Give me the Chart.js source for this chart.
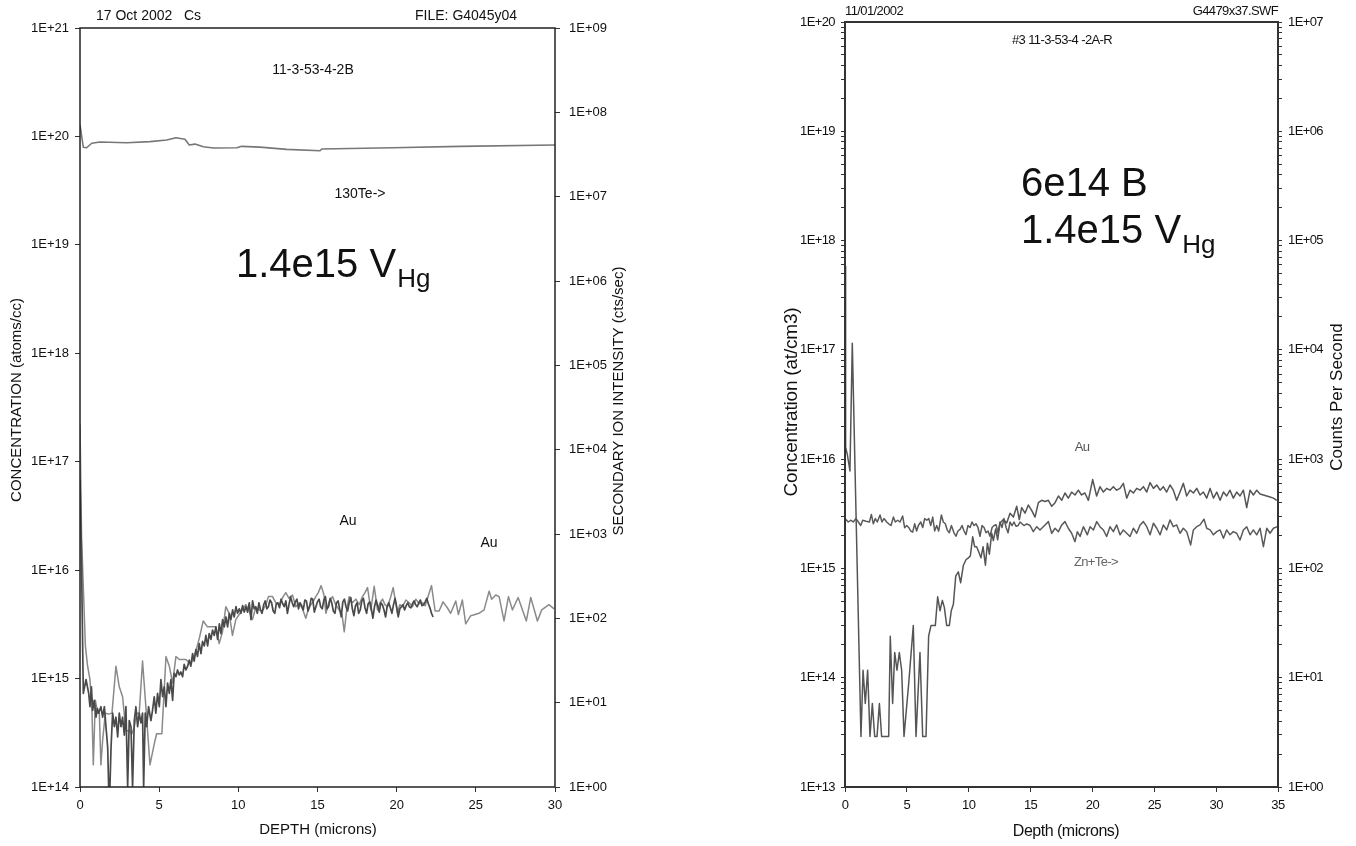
<!DOCTYPE html>
<html>
<head>
<meta charset="utf-8">
<script src="https://cdn.jsdelivr.net/npm/chart.js@4.4.1/dist/chart.umd.min.js"></script>
<style>
  html, body { margin: 0; padding: 0; background: #fff; }
  #wrap { position: relative; width: 1356px; height: 846px; overflow: hidden; background: #fff; }
  canvas { position: absolute; top: 0; }
  #left { left: 0; }
  #right { left: 700px; }
</style>
</head>
<body>
<div id="wrap">
  <canvas id="left" width="700" height="846"></canvas>
  <canvas id="right" width="656" height="846"></canvas>
</div>
<script>
// ---------- Sample 11-3-53-4-2B (Cs primary beam), depth in microns ----------
// Au profile, first acquisition (atoms/cc)
const auDarkLeft = [
  [0,6.8e16],[0.08,1.7e16],[0.21,7.3e14],[0.38,9.8e14],[0.55,7.3e14],[0.63,5.5e14],[0.72,8.4e14],[0.8,5.1e14],
  [0.9,6.3e14],[1.01,4.4e14],[1.1,5.3e14],[1.18,4.8e14],[1.32,5.5e14],[1.43,4.4e14],[1.54,5.5e14],[1.64,3.6e14],
  [1.75,2.3e14],[1.81,1e14],[1.89,1e14],[1.96,2.3e14],[2.06,4.8e14],[2.17,3.6e14],[2.27,4.4e14],[2.38,2.9e14],
  [2.48,4.8e14],[2.59,3.6e14],[2.69,4.4e14],[2.8,3.0e14],[2.9,5.5e14],[3.01,1e14],[3.11,4.1e14],[3.22,3.6e14],
  [3.32,1e14],[3.43,4.1e14],[3.53,5.5e14],[3.64,3.6e14],[3.74,4.8e14],[3.85,3.9e14],[3.95,4.8e14],[4.02,1e14],
  [4.12,4.8e14],[4.21,3.6e14],[4.33,5.5e14],[4.48,4.1e14],[4.58,5.1e14],[4.69,6.8e14],[4.79,4.8e14],[4.9,7.3e14],
  [5.01,5.5e14],[5.11,9.8e14],[5.22,6.8e14],[5.32,8.4e14],[5.43,5.5e14],[5.53,9.1e14],[5.64,7.3e14],[5.74,9.8e14],
  [5.85,6.3e14],[5.95,1.12e15],[6.06,1.04e15],[6.16,1.2e15],[6.27,1.08e15],[6.37,1.15e15],[6.48,1.04e15],[6.58,1.35e15],
  [6.69,1.2e15],[6.8,1.3e15],[6.9,1.48e15],[7.0,1.3e15],[7.11,1.7e15],[7.21,1.45e15],[7.32,1.85e15],[7.42,1.6e15],
  [7.53,2.1e15],[7.64,1.7e15],[7.74,2.2e15],[7.85,2.0e15],[7.95,2.5e15],[8.06,2.0e15],[8.16,2.6e15],[8.27,2.3e15],
  [8.37,2.8e15],[8.48,2.5e15],[8.58,3.0e15],[8.69,2.3e15],[8.8,3.2e15],[8.9,2.6e15],[9.01,3.5e15],[9.11,3.0e15],
  [9.22,3.7e15],[9.32,3.0e15],[9.43,4.0e15],[9.53,3.5e15],[9.64,4.3e15],[9.74,3.7e15],[9.85,4.6e15],[9.95,4.0e15],
  [10.06,4.4e15],[10.16,4.0e15],[10.27,4.7e15],[10.37,4.1e15],[10.48,4.6e15],[10.58,4.1e15],[10.69,5.0e15],[10.8,3.5e15],
  [10.9,5.2e15],[11.0,4.4e15],[11.1,4.6e15],[11.2,4.0e15],[11.3,5.0e15],[11.4,4.3e15],[11.5,4.0e15],[11.6,4.8e15],
  [11.7,5.2e15],[11.8,4.4e15],[11.9,4.6e15],[12.0,5.3e15],[12.1,5.0e15],[12.2,4.2e15],[12.3,4.0e15],[12.4,4.9e15],
  [12.5,5.0e15],[12.6,4.5e15],[12.7,5.4e15],[12.8,4.9e15],[12.9,4.6e15],[13.0,5.2e15],[13.1,4.0e15],[13.2,4.8e15],
  [13.3,5.7e15],[13.4,5.0e15],[13.5,4.6e15],[13.6,5.1e15],[13.7,5.4e15],[13.8,4.4e15],[13.9,5.0e15],[14.0,4.7e15],
  [14.1,4.3e15],[14.2,5.3e15],[14.3,5.2e15],[14.4,4.2e15],[14.5,4.6e15],[14.6,5.5e15],[14.7,5.4e15],[14.8,4.1e15],
  [14.9,4.6e15],[15.0,5.1e15],[15.1,5.4e15],[15.2,4.6e15],[15.3,4.4e15],[15.4,5.3e15],[15.5,5.7e15],[15.6,4.4e15],
  [15.7,4.6e15],[15.8,5.5e15],[15.9,5.0e15],[16.0,4.2e15],[16.1,4.0e15],[16.2,5.0e15],[16.3,5.2e15],[16.4,4.4e15],
  [16.5,3.7e15],[16.6,5.1e15],[16.7,5.4e15],[16.8,4.6e15],[16.9,4.2e15],[17.0,5.0e15],[17.1,5.6e15],[17.2,4.4e15],
  [17.3,3.8e15],[17.4,4.7e15],[17.5,5.0e15],[17.6,4.0e15],[17.7,4.3e15],[17.8,5.2e15],[17.9,5.5e15],[18.0,4.5e15],
  [18.1,4.0e15],[18.2,4.9e15],[18.3,5.1e15],[18.4,4.4e15],[18.5,3.6e15],[18.6,4.6e15],[18.7,5.3e15],[18.8,4.7e15],
  [18.9,4.1e15],[19.0,5.0e15],[19.1,4.8e15],[19.2,4.3e15],[19.3,3.7e15],[19.4,4.6e15],[19.5,5.0e15],[19.6,4.5e15],
  [19.7,4.0e15],[19.8,4.8e15],[19.9,5.5e15],[20.0,4.6e15],[20.1,3.7e15],[20.2,4.4e15],[20.3,4.6e15],[20.4,4.8e15],
  [20.5,4.3e15],[20.6,4.7e15],[20.7,5.0e15],[20.8,4.6e15],[20.9,4.5e15],[21.0,4.9e15],[21.1,5.2e15],[21.2,4.8e15],
  [21.3,4.6e15],[21.4,5.0e15],[21.5,5.3e15],[21.6,4.7e15],[21.7,4.8e15],[21.8,5.1e15],[21.9,5.5e15],[22.0,4.9e15],
  [22.1,4.5e15],[22.2,4.0e15],[22.3,3.7e15]
];

// Au profile, second acquisition (atoms/cc)
const auLightLeft = [
  [0,2.2e17],[0.1,2.0e16],[0.34,2.0e15],[0.48,1.3e15],[0.63,9.8e14],[0.76,4.8e14],[0.84,1.6e14],[0.97,6.3e14],
  [1.11,4.8e14],[1.22,4.8e14],[1.32,1.6e14],[1.43,2.7e14],[1.6,4.8e14],[1.81,4.7e14],[2.02,4.8e14],[2.27,1.3e15],
  [2.48,8.4e14],[2.69,6.8e14],[2.9,3.3e14],[3.11,3.3e14],[3.28,3.1e14],[3.43,3.6e14],[3.58,4.8e14],[3.74,4.8e14],
  [3.95,1.45e15],[4.16,5.5e14],[4.42,1.6e14],[4.69,2.5e14],[4.84,3.1e14],[5.0,3.1e14],[5.17,3.1e14],[5.43,1.6e15],
  [5.64,1.3e15],[5.85,9.1e14],[6.06,1.6e15],[6.27,1.5e15],[6.48,1.5e15],[6.69,1.5e15],[7.0,1.35e15],[7.32,1.8e15],
  [7.55,2.4e15],[7.78,3.4e15],[8.05,3.0e15],[8.37,3.0e15],[8.58,3.0e15],[8.79,2.1e15],[9.0,2.7e15],[9.21,4.6e15],
  [9.42,4.0e15],[9.63,2.5e15],[9.84,3.5e15],[10.05,3.9e15],[10.26,4.3e15],[10.47,4.8e15],[10.68,4.2e15],[10.89,3.5e15],
  [11.1,4.5e15],[11.31,4.3e15],[11.52,4.2e15],[11.74,4.8e15],[11.9,5.7e15],[12.16,5.7e15],[12.37,5.0e15],[12.58,4.8e15],
  [12.83,5.7e15],[13.0,6.2e15],[13.2,5.5e15],[13.42,5.9e15],[13.63,4.6e15],[13.84,5.0e15],[14.05,4.4e15],[14.26,3.6e15],
  [14.47,4.6e15],[14.68,5.0e15],[14.89,5.7e15],[15.05,6.2e15],[15.23,7.2e15],[15.4,6.0e15],[15.53,4.0e15],[15.75,5.2e15],
  [15.95,5.7e15],[16.15,4.8e15],[16.37,4.3e15],[16.55,3.9e15],[16.69,2.7e15],[16.85,4.4e15],[17.0,5.7e15],[17.2,5.0e15],
  [17.42,5.4e15],[17.63,4.8e15],[17.84,5.7e15],[18.0,6.2e15],[18.16,6.9e15],[18.37,4.3e15],[18.58,7.1e15],[18.79,4.3e15],
  [18.95,5.0e15],[19.11,5.4e15],[19.26,4.8e15],[19.42,4.6e15],[19.6,5.5e15],[19.78,6.9e15],[20.05,4.0e15],[20.2,4.8e15],
  [20.37,4.6e15],[20.58,5.3e15],[20.79,5.0e15],[21.0,4.6e15],[21.21,5.4e15],[21.42,4.9e15],[21.63,5.0e15],[21.8,4.7e15],
  [21.95,5.5e15],[22.2,7.2e15],[22.43,4.2e15],[22.68,4.2e15],[22.93,5.1e15],[23.2,4.5e15],[23.41,4.0e15],[23.73,5.2e15],
  [23.9,3.9e15],[24.15,5.3e15],[24.36,3.2e15],[24.68,3.8e15],[24.95,3.9e15],[25.2,4.0e15],[25.52,4.3e15],[25.84,6.4e15],
  [26.0,5.4e15],[26.26,5.9e15],[26.47,5.7e15],[26.78,3.4e15],[27.06,5.7e15],[27.31,4.3e15],[27.67,5.6e15],[28.19,3.4e15],
  [28.47,5.6e15],[28.89,3.4e15],[29.16,4.3e15],[29.62,4.8e15],[29.94,4.4e15]
];

// 130Te matrix signal (cts/sec)
const te130Left = [
  [0,7.1e7],[0.21,3.85e7],[0.42,3.8e7],[0.74,4.3e7],[1.26,4.45e7],[2.95,4.35e7],[4.42,4.5e7],[5.48,4.7e7],
  [6.06,5.0e7],[6.63,4.8e7],[6.9,4.1e7],[7.26,4.2e7],[7.79,3.9e7],[8.42,3.78e7],[9.9,3.8e7],[10.21,3.95e7],
  [11.37,3.87e7],[13.06,3.64e7],[15.16,3.5e7],[15.27,3.67e7],[19.77,3.8e7],[24.0,3.95e7],[30,4.1e7]
];

// ---------- Sample #3 11-3-53-4-2A-R, depth in microns ----------
// Au profile (at/cm3)
const auRight = [
  [0,5.8e17],[0.05,1.29e16],[0.19,1.1e16],[0.4,7.8e15],[0.59,1.15e17],[0.81,8.2e15],[1.29,2.9e13],[1.46,1.17e14],
  [1.64,5.8e13],[1.83,1.17e14],[2.02,2.9e13],[2.21,5.8e13],[2.4,2.9e13],[2.59,2.9e13],[2.78,5.8e13],[2.96,2.9e13],
  [3.15,2.9e13],[3.34,2.9e13],[3.53,2.9e13],[3.66,2.4e14],[3.85,5.8e13],[4.02,1.7e14],[4.2,1.17e14],[4.39,1.7e14],
  [4.58,1.17e14],[4.77,2.9e13],[5.15,8.9e13],[5.52,3.0e14],[5.74,2.9e13],[6.06,1.7e14],[6.28,2.9e13],[6.55,2.9e13],
  [6.76,2.4e14],[6.95,3.0e14],[7.3,3.0e14],[7.49,5.5e14],[7.68,4.1e14],[7.87,5.1e14],[8.03,4.4e14],[8.22,3.0e14],
  [8.43,3.0e14],[8.59,4.1e14],[8.76,4.7e14],[8.95,8.5e14],[9.16,9.3e14],[9.35,7.4e14],[9.57,1.07e15],[9.78,1.2e15],
  [9.97,1.25e15],[10.13,1.3e15],[10.32,1.95e15],[10.48,1.58e15],[10.64,1.58e15],[10.83,1.4e15],[10.99,1.25e15],[11.16,1.58e15],
  [11.35,1.07e15],[11.51,1.7e15],[11.67,1.35e15],[11.86,2.1e15],[11.99,1.8e15],[12.18,2.3e15],[12.34,1.83e15],[12.53,2.6e15],
  [12.8,2.8e15],[13.07,2.6e15],[13.34,3.2e15],[13.61,2.95e15],[13.88,3.7e15],[14.09,2.8e15],[14.28,3.6e15],[14.55,3.2e15],
  [14.82,3.8e15],[15.09,3.4e15],[15.36,2.95e15],[15.63,4.0e15],[15.9,4.2e15],[16.17,4.1e15],[16.44,4.2e15],[16.71,3.7e15],
  [16.98,4.0e15],[17.25,4.6e15],[17.52,4.2e15],[17.78,4.9e15],[18.05,4.4e15],[18.32,5.0e15],[18.59,4.7e15],[18.86,5.2e15],
  [19.12,4.7e15],[19.39,4.9e15],[19.67,4.2e15],[20.02,6.5e15],[20.34,4.6e15],[20.61,5.6e15],[20.88,5.0e15],[21.15,5.4e15],
  [21.42,5.2e15],[21.69,5.6e15],[21.96,5.2e15],[22.23,5.4e15],[22.5,6.0e15],[22.77,4.4e15],[23.04,5.2e15],[23.31,4.9e15],
  [23.58,5.4e15],[23.85,5.2e15],[24.12,5.6e15],[24.39,5.0e15],[24.66,6.1e15],[24.93,5.4e15],[25.2,5.8e15],[25.47,5.2e15],
  [25.73,5.6e15],[26.0,5.0e15],[26.27,5.8e15],[26.54,5.2e15],[26.81,4.2e15],[27.08,5.0e15],[27.35,6.0e15],[27.62,4.6e15],
  [27.89,5.2e15],[28.16,4.9e15],[28.43,5.4e15],[28.7,4.7e15],[28.97,5.0e15],[29.24,4.4e15],[29.51,5.4e15],[29.78,4.4e15],
  [30.05,5.0e15],[30.32,4.2e15],[30.59,5.0e15],[30.85,4.6e15],[31.12,5.2e15],[31.39,4.4e15],[31.66,5.0e15],[31.93,4.6e15],
  [32.2,5.2e15],[32.47,3.6e15],[32.74,5.2e15],[33.01,4.7e15],[33.28,5.2e15],[33.55,4.8e15],[33.82,4.7e15],[34.09,4.6e15],
  [34.36,4.5e15],[34.63,4.4e15],[34.9,4.2e15]
];

// Zn+Te matrix signal (counts per second)
const znTeRight = [
  [0,286],[0.27,266],[0.46,276],[0.67,266],[0.89,286],[1.08,266],[1.27,247],[1.43,276],[1.7,270],[1.97,266],
  [2.13,312],[2.29,256],[2.45,286],[2.61,266],[2.83,308],[2.99,266],[3.15,286],[3.37,266],[3.53,256],[3.72,247],
  [3.91,295],[4.07,266],[4.26,276],[4.45,266],[4.66,302],[4.82,236],[4.99,247],[5.15,237],[5.31,220],[5.47,215],
  [5.63,256],[5.79,220],[5.93,247],[6.12,266],[6.28,237],[6.44,286],[6.61,276],[6.77,286],[6.93,247],[7.09,295],
  [7.25,220],[7.41,247],[7.57,220],[7.79,308],[7.95,266],[8.11,256],[8.27,224],[8.43,212],[8.6,247],[8.81,212],
  [8.97,197],[9.13,220],[9.3,228],[9.46,247],[9.62,220],[9.78,204],[9.94,247],[10.11,237],[10.27,266],[10.43,247],
  [10.59,256],[10.75,237],[10.91,197],[11.08,247],[11.24,237],[11.4,212],[11.56,220],[11.72,197],[11.89,237],[12.05,247],
  [12.21,251],[12.37,212],[12.53,266],[12.69,237],[12.85,286],[13.02,237],[13.18,212],[13.34,266],[13.5,247],[13.66,266],
  [13.82,243],[13.99,247],[14.15,266],[14.31,256],[14.47,247],[14.69,256],[14.96,247],[15.22,217],[15.5,241],[15.76,225],
  [16.17,250],[16.44,268],[16.71,210],[16.98,233],[17.25,217],[17.52,250],[17.78,268],[18.05,233],[18.32,210],[18.59,176],
  [18.78,217],[19.0,196],[19.27,241],[19.59,203],[19.81,241],[20.08,225],[20.35,268],[20.61,241],[20.88,225],[21.15,196],
  [21.42,241],[21.69,217],[21.96,250],[22.23,203],[22.5,225],[22.77,210],[23.04,196],[23.31,233],[23.58,210],[23.85,250],
  [24.12,268],[24.39,241],[24.66,203],[24.93,259],[25.2,233],[25.47,203],[25.73,250],[26.0,225],[26.27,278],[26.54,241],
  [26.81,250],[27.08,210],[27.35,233],[27.62,217],[27.94,164],[28.16,225],[28.43,241],[28.7,250],[29.02,282],[29.24,233],
  [29.51,225],[29.78,203],[30.05,217],[30.32,225],[30.59,189],[30.85,225],[31.12,203],[31.39,217],[31.66,210],[31.93,182],
  [32.2,225],[32.47,241],[32.74,203],[33.01,225],[33.28,203],[33.55,233],[33.82,158],[34.09,233],[34.36,210],[34.63,233],
  [34.95,241]
];

// ---------- Axis tick values ----------
const leftConcDecades  = [1e14, 1e15, 1e16, 1e17, 1e18, 1e19, 1e20, 1e21];
const leftCountDecades = [1e0, 1e1, 1e2, 1e3, 1e4, 1e5, 1e6, 1e7, 1e8, 1e9];
const rightConcDecades = [1e13, 1e14, 1e15, 1e16, 1e17, 1e18, 1e19, 1e20];
const rightCountDecades = [1e0, 1e1, 1e2, 1e3, 1e4, 1e5, 1e6, 1e7];
const depthTicksLeft  = [0, 5, 10, 15, 20, 25, 30];
const depthTicksRight = [0, 5, 10, 15, 20, 25, 30, 35];

// ---------- Helpers ----------
const FAMILY = "'Liberation Sans', Arial, Helvetica, sans-serif";
const toXY = pairs => pairs.map(([x, y]) => ({ x, y }));

function sciLabel(v) {
  const e = Math.round(Math.log10(v));
  return '1E' + (e < 0 ? '-' : '+') + String(Math.abs(e)).padStart(2, '0');
}

// decade ticks plus the 2..9 sub-ticks between them
function withMinors(decades) {
  const out = [];
  decades.forEach((d, i) => {
    out.push(d);
    if (i < decades.length - 1) for (let m = 2; m <= 9; m++) out.push(m * d);
  });
  return out;
}

function logAxis(position, min, max, tickVals, labelVals, width, fontSize, pad, tickLen) {
  return {
    type: 'logarithmic', position, min, max,
    afterBuildTicks: s => { s.ticks = tickVals.map(v => ({ value: v })); },
    afterFit: s => { s.width = width; },
    ticks: {
      autoSkip: false, padding: pad, color: '#111',
      font: { family: FAMILY, size: fontSize },
      callback: v => (labelVals.includes(v) ? sciLabel(v) : '')
    },
    grid: { drawOnChartArea: false, drawTicks: true, tickLength: tickLen, tickColor: '#333', lineWidth: 1 },
    border: { display: false }
  };
}

function depthAxis(max, tickVals, height, fontSize) {
  return {
    type: 'linear', position: 'bottom', min: 0, max,
    afterBuildTicks: s => { s.ticks = tickVals.map(v => ({ value: v })); },
    afterFit: s => { s.height = height; },
    ticks: { autoSkip: false, maxRotation: 0, padding: 6, color: '#111', font: { family: FAMILY, size: fontSize } },
    grid: { drawOnChartArea: false, drawTicks: true, tickLength: 5, tickColor: '#333', lineWidth: 1 },
    border: { display: false }
  };
}

// frame around the plot area and the free-standing labels
function makeDecor(offsetX, frame, texts, spacing) {
  return {
    id: 'decor',
    beforeDraw(chart) { chart.ctx.letterSpacing = spacing; },
    afterDatasetsDraw(chart) {
      const { ctx, chartArea: a } = chart;
      ctx.save();
      ctx.strokeStyle = frame.color;
      ctx.lineWidth = frame.width;
      ctx.strokeRect(a.left, a.top, a.right - a.left, a.bottom - a.top);
      ctx.restore();
    },
    afterDraw(chart) {
      const ctx = chart.ctx;
      texts.forEach(t => {
        ctx.save();
        ctx.letterSpacing = t.spacing || spacing;
        ctx.font = t.font;
        ctx.fillStyle = t.color || '#111';
        ctx.textAlign = t.align || 'left';
        ctx.textBaseline = t.baseline || 'middle';
        ctx.translate(t.x - offsetX, t.y);
        if (t.rotate) ctx.rotate(t.rotate);
        ctx.fillText(t.text, 0, 0);
        if (t.sub) {
          const w = ctx.measureText(t.text).width;
          ctx.font = t.sub.font;
          ctx.textAlign = 'left';
          ctx.fillText(t.sub.text, w + t.sub.dx, t.sub.dy);
        }
        ctx.restore();
      });
    }
  };
}

const f = (size) => `${size}px ${FAMILY}`;

const leftTexts = [
  { text: '17 Oct 2002   Cs', x: 96, y: 16, font: f(14) },
  { text: 'FILE: G4045y04', x: 517, y: 16, font: f(14), align: 'right' },
  { text: '11-3-53-4-2B', x: 313, y: 70, font: f(14), align: 'center' },
  { text: '130Te->', x: 360, y: 194, font: f(14), align: 'center' },
  { text: '1.4e15 V', x: 236, y: 277, font: f(40), baseline: 'alphabetic',
    sub: { text: 'Hg', font: f(26), dx: 1, dy: 10 } },
  { text: 'Au', x: 348, y: 521, font: f(14), align: 'center' },
  { text: 'Au', x: 489, y: 543, font: f(14), align: 'center' },
  { text: 'CONCENTRATION (atoms/cc)', x: 17, y: 400, font: f(15), align: 'center', rotate: -Math.PI / 2 },
  { text: 'SECONDARY ION INTENSITY (cts/sec)', x: 619, y: 401, font: f(15), align: 'center', rotate: -Math.PI / 2 },
  { text: 'DEPTH (microns)', x: 318, y: 830, font: f(15), align: 'center' }
];

const rightTexts = [
  { text: '11/01/2002', x: 845, y: 11, font: f(13) },
  { text: 'G4479x37.SWF', x: 1278, y: 11, font: f(13), align: 'right' },
  { text: '#3 11-3-53-4 -2A-R', x: 1062, y: 40, font: f(13), align: 'center' },
  { text: '6e14 B', x: 1021, y: 196, font: f(40), baseline: 'alphabetic', spacing: '0px' },
  { text: '1.4e15 V', x: 1021, y: 243, font: f(40), baseline: 'alphabetic', spacing: '0px',
    sub: { text: 'Hg', font: f(26), dx: 1, dy: 10 } },
  { text: 'Au', x: 1082, y: 447, font: f(13), align: 'center', color: '#555' },
  { text: 'Zn+Te->', x: 1096, y: 562, font: f(13), align: 'center', color: '#666' },
  { text: 'Concentration (at/cm3)', x: 792, y: 402, font: f(19), align: 'center', rotate: -Math.PI / 2, spacing: '-0.2px' },
  { text: 'Counts Per Second', x: 1337, y: 397, font: f(17), align: 'center', rotate: -Math.PI / 2, spacing: '0px' },
  { text: 'Depth (microns)', x: 1066, y: 832, font: f(16), align: 'center', spacing: '-0.5px' }
];

const common = {
  responsive: false, animation: false, devicePixelRatio: 1, events: [],
  elements: { point: { radius: 0 }, line: { tension: 0, fill: false, borderJoinStyle: 'round' } },
  plugins: { legend: { display: false }, tooltip: { enabled: false } }
};

// ---------- Left panel ----------
new Chart(document.getElementById('left'), {
  type: 'line',
  data: {
    datasets: [
      { label: 'Au', data: toXY(auDarkLeft), yAxisID: 'y', borderColor: '#4a4a4a', borderWidth: 1.7 },
      { label: 'Au', data: toXY(auLightLeft), yAxisID: 'y', borderColor: '#8a8a8a', borderWidth: 1.5 },
      { label: '130Te', data: toXY(te130Left), yAxisID: 'y2', borderColor: '#777', borderWidth: 1.6 }
    ]
  },
  options: {
    ...common,
    layout: { padding: { top: 28, left: 0, right: 0, bottom: 0 } },
    scales: {
      x: depthAxis(30, depthTicksLeft, 59, 13),
      y: logAxis('left', 1e14, 1e21, leftConcDecades, leftConcDecades, 80, 13, 6, 5),
      y2: logAxis('right', 1, 1e9, leftCountDecades, leftCountDecades, 145, 13, 9, 5)
    }
  },
  plugins: [makeDecor(0, { color: '#222', width: 1.5 }, leftTexts, '0px')]
});

// ---------- Right panel ----------
new Chart(document.getElementById('right'), {
  type: 'line',
  data: {
    datasets: [
      { label: 'Au', data: toXY(auRight), yAxisID: 'y', borderColor: '#555', borderWidth: 1.5 },
      { label: 'Zn+Te', data: toXY(znTeRight), yAxisID: 'y2', borderColor: '#5a5a5a', borderWidth: 1.5 }
    ]
  },
  options: {
    ...common,
    layout: { padding: { top: 22, left: 0, right: 0, bottom: 0 } },
    scales: {
      x: depthAxis(35, depthTicksRight, 59, 13),
      y: logAxis('left', 1e13, 1e20, withMinors(rightConcDecades), rightConcDecades, 145, 13, 6, 4),
      y2: logAxis('right', 1, 1e7, withMinors(rightCountDecades), rightCountDecades, 78, 13, 6, 4)
    }
  },
  plugins: [makeDecor(700, { color: '#333', width: 2 }, rightTexts, '-0.6px')]
});
</script>
</body>
</html>
